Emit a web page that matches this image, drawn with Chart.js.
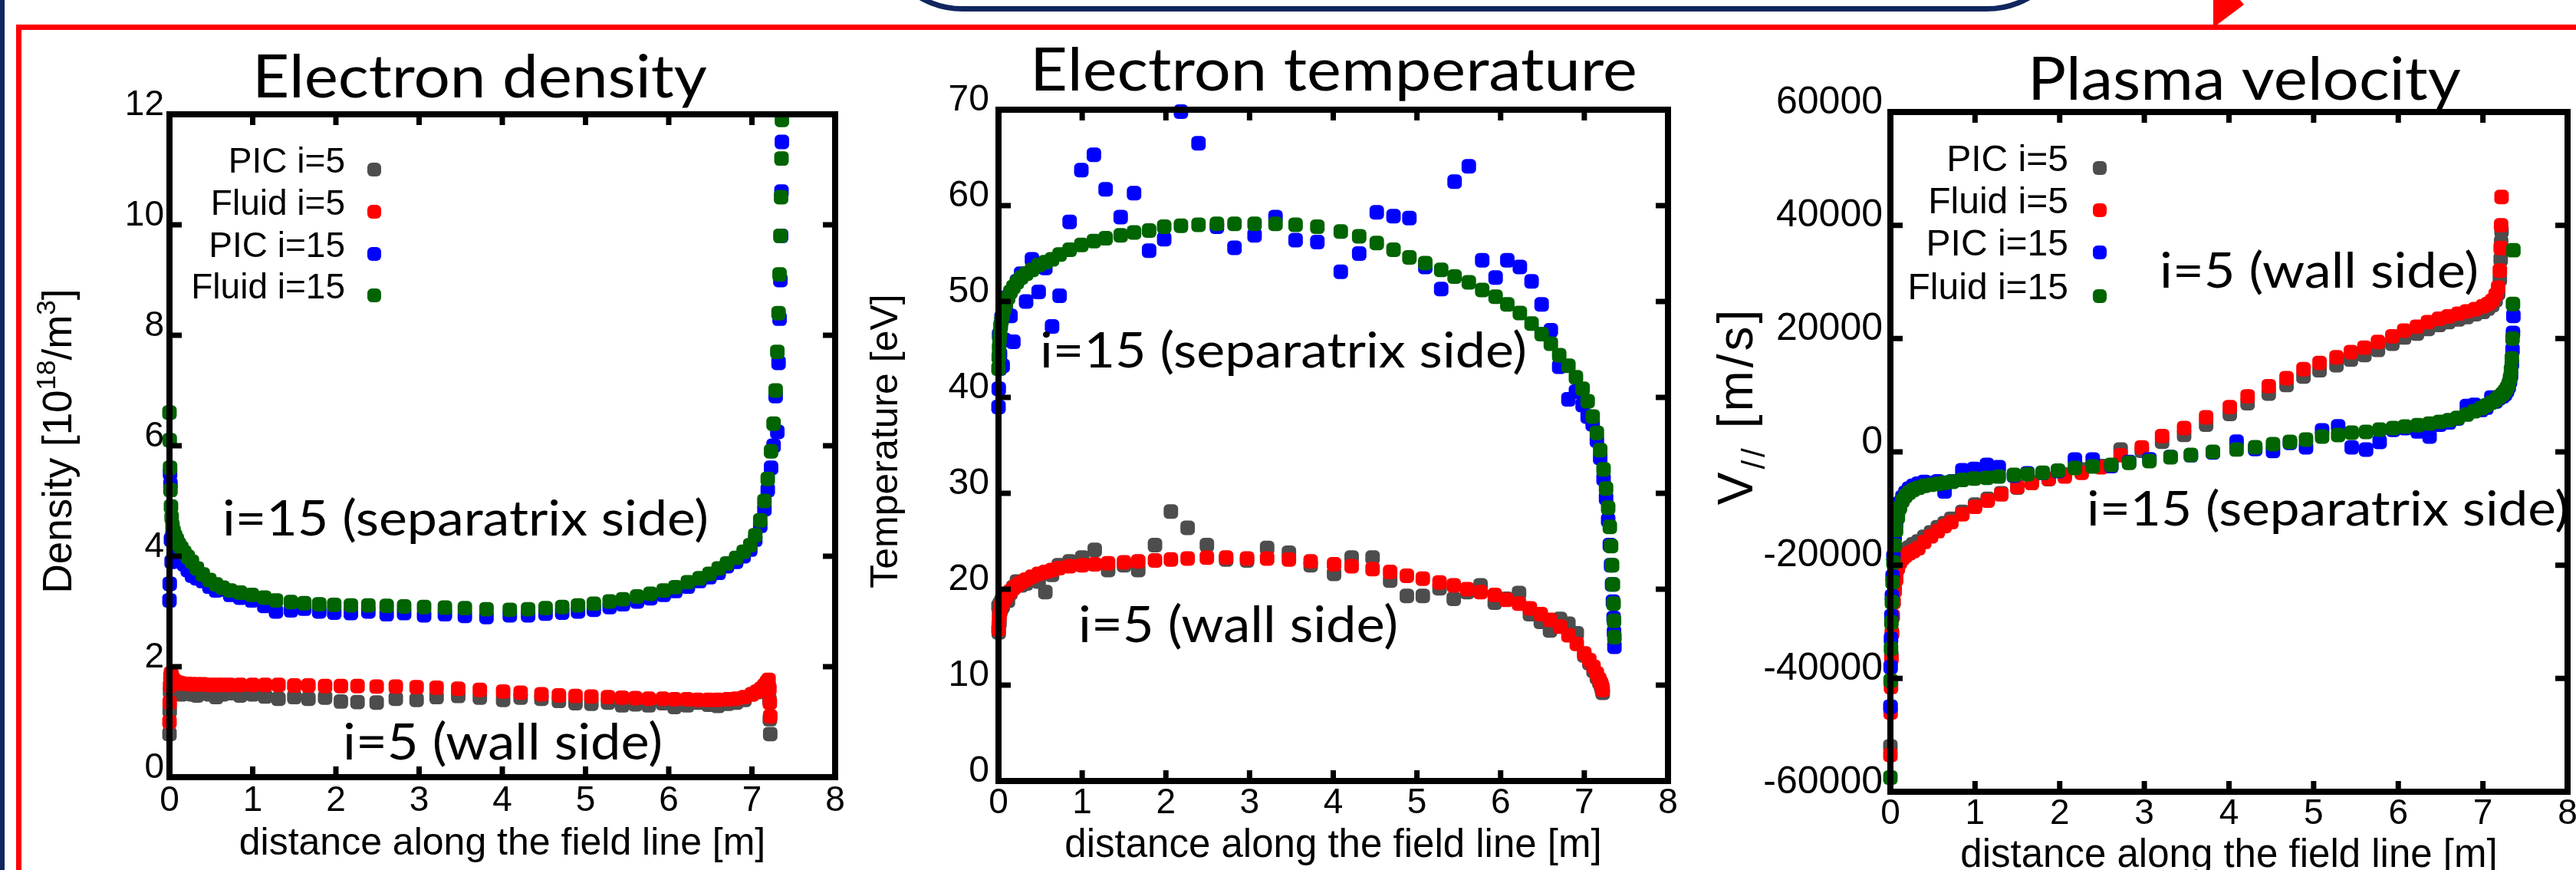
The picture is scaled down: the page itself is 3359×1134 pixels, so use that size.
<!DOCTYPE html>
<html>
<head>
<meta charset="utf-8">
<script src="https://cdn.jsdelivr.net/npm/chart.js@4.4.1/dist/chart.umd.min.js"></script>
<style>
html,body{margin:0;padding:0;background:#fff;width:3359px;height:1134px;overflow:hidden}
#page{position:relative;width:3359px;height:1134px}
canvas{position:absolute;display:block}
#bg{left:0;top:0}
</style>
</head>
<body>
<div id="page">
<canvas id="bg" width="3359" height="1134"></canvas>
<canvas id="c1"></canvas>
<canvas id="c2"></canvas>
<canvas id="c3"></canvas>
</div>
<script>
// ---------------- DATA ----------------
const SERIES_NAMES = ['PIC i=5', 'Fluid i=5', 'PIC i=15', 'Fluid i=15'];
const X_TICKS = [0, 1, 2, 3, 4, 5, 6, 7, 8];
const DENSITY_TICKS = [0, 2, 4, 6, 8, 10, 12];
const TEMP_TICKS = [0, 10, 20, 30, 40, 50, 60, 70];
const VEL_TICKS = [-60000, -40000, -20000, 0, 20000, 40000, 60000];

// distance along the field line [m] for flux tube i=5 and i=15
const S5 = [0, 0.003, 0.007, 0.012, 0.018, 0.026, 0.036, 0.05, 0.067, 0.088,
  0.113, 0.143, 0.178, 0.22, 0.27, 0.33, 0.4, 0.48, 0.56, 0.64,
  0.72, 0.85, 1.0, 1.15, 1.31, 1.5, 1.67, 1.87, 2.06, 2.26,
  2.49, 2.72, 2.97, 3.21, 3.47, 3.73, 4.01, 4.22, 4.47, 4.68,
  4.88, 5.07, 5.27, 5.44, 5.6, 5.76, 5.93, 6.07, 6.22, 6.35,
  6.48, 6.59, 6.71, 6.81, 6.91, 7.0, 7.06, 7.11, 7.15, 7.18,
  7.2, 7.21, 7.215, 7.22];
const S15 = [0, 0.003, 0.007, 0.012, 0.018, 0.026, 0.036, 0.05, 0.067, 0.088,
  0.113, 0.143, 0.178, 0.22, 0.27, 0.33, 0.4, 0.48, 0.56, 0.64,
  0.73, 0.85, 0.99, 1.14, 1.28, 1.46, 1.62, 1.8, 1.98, 2.18,
  2.39, 2.61, 2.82, 3.06, 3.31, 3.55, 3.81, 4.09, 4.31, 4.52,
  4.72, 4.91, 5.1, 5.29, 5.45, 5.62, 5.78, 5.94, 6.08, 6.23,
  6.37, 6.49, 6.6, 6.7, 6.81, 6.9, 6.98, 7.04, 7.1, 7.15,
  7.19, 7.23, 7.26, 7.285, 7.305, 7.32, 7.332, 7.342, 7.35, 7.355, 7.36];

// Electron density [10^18 m^-3]
const DENS_PIC5 = [0.78, 1.2, 1.55, 1.75, 1.8, 1.7, 1.62, 1.58, 1.55, 1.57,
  1.53, 1.5, 1.52, 1.53, 1.5, 1.48, 1.52, 1.5, 1.45, 1.5,
  1.52, 1.48, 1.5, 1.46, 1.42, 1.45, 1.42, 1.44, 1.37, 1.36,
  1.35, 1.42, 1.4, 1.45, 1.47, 1.44, 1.4, 1.44, 1.42, 1.38,
  1.34, 1.33, 1.35, 1.3, 1.32, 1.3, 1.34, 1.27, 1.3, 1.35,
  1.31, 1.29, 1.33, 1.35, 1.4, 1.5, 1.54, 1.58, 1.62, 1.66,
  1.62, 1.4, 1.05, 0.78];
const DENS_FLUID5 = [1.0, 1.35, 1.65, 1.82, 1.88, 1.84, 1.79, 1.76, 1.74, 1.72,
  1.71, 1.7, 1.69, 1.69, 1.68, 1.68, 1.68, 1.67, 1.67, 1.67,
  1.67, 1.67, 1.67, 1.67, 1.67, 1.66, 1.66, 1.65, 1.65, 1.65,
  1.64, 1.64, 1.63, 1.62, 1.6, 1.58, 1.55, 1.53, 1.5, 1.48,
  1.47, 1.46, 1.45, 1.44, 1.43, 1.42, 1.42, 1.41, 1.41, 1.4,
  1.4, 1.4, 1.41, 1.42, 1.45, 1.5, 1.55, 1.6, 1.66, 1.72,
  1.76, 1.6, 1.35, 1.1];
const DENS_PIC15 = [3.2, 3.5, 5.5, 5.3, 4.3, 3.9, 4.4, 4.2, 4.15, 4.05,
  3.95, 3.9, 3.85, 3.75, 3.65, 3.6, 3.55, 3.45, 3.38, 3.4,
  3.3, 3.25, 3.2, 3.1, 3.0, 3.02, 3.05, 3.0, 2.98, 2.97,
  3.0, 2.95, 2.97, 2.93, 2.95, 2.92, 2.9, 2.93, 2.93, 2.96,
  2.98, 3.0, 3.03, 3.08, 3.13, 3.18, 3.24, 3.3, 3.37, 3.45,
  3.55, 3.62, 3.7, 3.82, 3.9, 4.0, 4.12, 4.3, 4.55, 4.85,
  5.2, 5.6, 6.0, 6.9, 6.25, 7.5, 8.3, 9.0, 9.8, 10.6, 11.5];
const DENS_FLUID15 = [6.6, 6.1, 5.6, 5.2, 4.9, 4.7, 4.55, 4.45, 4.37, 4.3,
  4.22, 4.15, 4.07, 3.99, 3.9, 3.78, 3.67, 3.57, 3.49, 3.43,
  3.38, 3.34, 3.3, 3.25, 3.2, 3.17, 3.15, 3.13, 3.12, 3.11,
  3.11, 3.1, 3.09, 3.08, 3.07, 3.06, 3.04, 3.03, 3.04, 3.06,
  3.08, 3.11, 3.14, 3.18, 3.22, 3.27, 3.32, 3.38, 3.44, 3.53,
  3.6, 3.68, 3.78, 3.87, 3.97, 4.08, 4.2, 4.38, 4.65, 5.0,
  5.4, 5.9, 6.4, 7.0, 7.7, 8.4, 9.1, 9.8, 10.5, 11.2, 11.9];

// Electron temperature [eV]
const TEMP_PIC5 = [18.2, 15.5, 17.5, 16.5, 18.5, 17.8, 18.8, 18.2, 19, 19.2,
  18.8, 19.6, 20.2, 20.8, 20.4, 20.6, 21.2, 20.8, 19.7, 21.5,
  22.5, 22.9, 23.3, 24.1, 22, 22.5, 22, 24.6, 28.1, 26.4,
  24.6, 23.1, 23, 24.3, 23.8, 22.5, 21.6, 23.3, 23.3, 20.9,
  19.3, 19.3, 20.1, 19, 19.7, 20.4, 18.6, 19, 19.6, 17.4,
  16.6, 15.7, 16.9, 16.4, 15.4, 13.1, 12.3, 11.5, 10.8, 10.3,
  9.9, 9.6, 9.4, 9.2];
const TEMP_FLUID5 = [15.8, 16.3, 16.8, 17.2, 17.6, 18, 18.3, 18.6, 18.9, 19.2,
  19.5, 19.8, 20.1, 20.4, 20.7, 21, 21.3, 21.6, 21.8, 22,
  22.2, 22.4, 22.5, 22.6, 22.7, 22.8, 22.9, 23, 23.1, 23.2,
  23.3, 23.3, 23.2, 23.2, 23.1, 22.9, 22.6, 22.4, 22.1, 21.8,
  21.4, 21.1, 20.7, 20.4, 20, 19.7, 19.4, 18.9, 18.5, 18,
  17.4, 16.8, 16.1, 15.2, 14.3, 13.3, 12.6, 11.9, 11.2, 10.6,
  10.2, 9.9, 9.7, 9.5];
const TEMP_PIC15 = [39, 40.9, 46.5, 43, 44.5, 47.5, 48.3, 43.3, 46, 49.7,
  50.5, 48.5, 45.8, 52.1, 52.9, 50, 54.4, 51, 53.5, 47.4,
  50.6, 58.3, 63.7, 65.3, 61.7, 58.8, 61.3, 55.3, 56.5, 69.8,
  66.5, 57.8, 55.6, 56.9, 58.8, 56.4, 56.2, 53.1, 55, 59.3,
  58.9, 58.7, 53.6, 51.3, 62.5, 64.1, 54.3, 52.5, 54.3, 53.6,
  52.1, 49.7, 47, 43.2, 39.8, 40.6, 39.2, 38, 37.2, 35.5,
  33.7, 31.5, 29.5, 27.2, 24.6, 22.5, 20.5, 18.7, 17, 15.5, 14];
const TEMP_FLUID15 = [43, 44.2, 45.2, 46, 46.7, 47.4, 48, 48.6, 49.2, 49.8,
  50.4, 51, 51.5, 52, 52.5, 52.9, 53.3, 53.8, 54.1, 54.4,
  54.9, 55.4, 55.9, 56.3, 56.6, 56.9, 57.2, 57.4, 57.8, 57.9,
  58, 58.1, 58.1, 58.1, 58.1, 58, 57.8, 57.3, 56.8, 56.1,
  55.4, 54.6, 54, 53.3, 52.6, 52, 51.2, 50.5, 49.7, 48.8,
  47.7, 46.6, 45.6, 44.4, 43.3, 42.1, 40.9, 39.6, 38, 36.3,
  34.5, 32.5, 30.5, 28.5, 26.5, 24.5, 22.5, 20.5, 18.5, 16.7, 15];

// Plasma parallel velocity [m/s]
const VEL_PIC5 = [-52000, -45000, -40500, -36000, -32000, -29000, -26500, -24300, -22300, -20300,
  -19000, -18000, -17300, -16900, -16300, -15800, -15000, -14200, -13300, -12600,
  -11800, -10600, -9300, -8300, -7300, -6300, -5400, -4800, -4000, -3100,
  -2500, 400, 200, 1800, 3000, 4800, 6700, 8600, 10300, 11800,
  13300, 14400, 15300, 16300, 17100, 18000, 19100, 20200, 20900, 21700,
  22400, 22900, 23400, 23800, 24300, 24700, 25300, 25900, 26800, 28000,
  30500, 34000, 37000, 39000];
const VEL_FLUID5 = [-53500, -46000, -41500, -36500, -32000, -29000, -26500, -24500, -22500, -20500,
  -19500, -18800, -18300, -17900, -17500, -17000, -15900, -14900, -14000, -13100,
  -12400, -11000, -9700, -8600, -7500, -6200, -5500, -4750, -4350, -3700,
  -2700, -600, 800, 2800, 4200, 6100, 7900, 9800, 11600, 13000,
  14600, 15700, 16700, 17600, 18400, 19400, 20400, 21400, 22100, 22900,
  23500, 23900, 24400, 24800, 25200, 25700, 26100, 26700, 27700, 29000,
  32000, 36000, 40000, 45000];
const VEL_PIC15 = [-45000, -38000, -33000, -29000, -25500, -22000, -18500, -15000, -12500, -10500,
  -9000, -8000, -7200, -6500, -6000, -5600, -5300, -5500, -5200, -7000,
  -5200, -3250, -3000, -2300, -2700, -4200, -3800, -3700, -3400, -1350,
  -1350, -2500, -1800, -1300, -900, -600, -100, 1800, 500, 150,
  1600, 800, 3800, 4500, 800, 400, 1760, 3900, 4200, 3600,
  2700, 4800, 5200, 5900, 8100, 8300, 7400, 7800, 9600, 8900,
  9500, 9800, 10200, 10800, 11500, 12500, 13500, 15500, 18000, 21000, 24000];
const VEL_FLUID15 = [-57500, -40400, -34700, -30100, -26500, -23000, -19500, -16500, -13800, -11500,
  -9800, -8600, -7800, -7200, -6700, -6350, -6000, -5800, -5650, -5450,
  -5280, -4950, -4700, -4580, -4350, -4060, -3940, -3670, -3300, -2850,
  -2570, -2300, -1930, -1620, -950, -540, 0, 420, 810, 1350,
  1760, 2170, 2700, 2980, 3390, 3520, 3930, 4200, 4470, 4700,
  5000, 5300, 5600, 6000, 6600, 7180, 7700, 8200, 8700, 9150,
  9700, 10200, 10700, 11300, 12000, 13000, 14500, 16500, 20000, 26100, 35600];

// ---------------- STYLE ----------------
const COLORS = ['#4d4d4d', '#ff0000', '#0000ff', '#006400'];
const ARIAL = '"Liberation Sans", Arial, Helvetica, sans-serif';
const CAL = 'Lato, "Open Sans", sans-serif';
const NAVY = '#10265e';
const MARKER_R = 11;

// ---------------- BACKGROUND DECOR ----------------
(function () {
  const g = document.getElementById('bg').getContext('2d');
  g.fillStyle = '#fff'; g.fillRect(0, 0, 3359, 1134);
  g.fillStyle = NAVY; g.fillRect(0, 0, 6, 1134);
  g.fillStyle = '#ff0000';
  g.fillRect(21, 32, 3359 - 21, 7);
  g.fillRect(21, 32, 7, 1134 - 32);
  g.strokeStyle = NAVY; g.lineWidth = 7;
  g.beginPath();
  g.roundRect(1143.5, -400, 2702.5 - 1143.5, 411.5, 112);
  g.stroke();
  g.fillStyle = '#ff0000';
  g.beginPath();
  g.moveTo(2886, 0); g.lineTo(2921, 0); g.lineTo(2926, 6); g.lineTo(2886, 36);
  g.closePath(); g.fill();
})();

// ---------------- HELPERS ----------------
function pts(xs, ys) { return xs.map((x, i) => ({ x: x, y: ys[i] })); }
function makeDatasets(p5, f5, p15, f15) {
  const raw = [[S5, p5], [S5, f5], [S15, p15], [S15, f15]];
  return raw.map((r, i) => ({
    label: SERIES_NAMES[i],
    data: pts(r[0], r[1]),
    backgroundColor: COLORS[i],
    borderColor: COLORS[i],
    pointStyle: 'rectRounded',
    pointRadius: MARKER_R,
    pointHoverRadius: MARKER_R,
    pointBorderWidth: 0,
    borderWidth: 0,
    clip: false,
    order: 4 - i
  }));
}

function roundedSquare(ctx, cx, cy, side, r) {
  const h = side / 2;
  ctx.beginPath();
  ctx.roundRect(cx - h, cy - h, side, side, r);
  ctx.fill();
}

function fitText(ctx, t, L, T) {
  ctx.save();
  ctx.font = '100px ' + CAL;
  const m = ctx.measureText(t.text);
  const ink = m.actualBoundingBoxLeft + m.actualBoundingBoxRight;
  const size = 100 * (t.r - t.l) / ink;
  ctx.font = size + 'px ' + CAL;
  const m2 = ctx.measureText(t.text);
  const ref = ctx.measureText(t.ref);
  const sy = (t.base - t.top) / ref.actualBoundingBoxAscent;
  ctx.translate(t.l - L + m2.actualBoundingBoxLeft, t.base - T);
  ctx.scale(1, sy);
  ctx.textAlign = 'left'; ctx.textBaseline = 'alphabetic';
  ctx.fillStyle = '#000';
  ctx.fillText(t.text, 0, 0);
  ctx.restore();
}

function richVertical(ctx, yt, L, T) {
  ctx.save();
  ctx.translate(yt.baseX - L, yt.cy - T);
  ctx.rotate(-Math.PI / 2);
  ctx.fillStyle = '#000';
  ctx.textBaseline = 'alphabetic'; ctx.textAlign = 'left';
  const small = yt.size * 0.66;
  const sp = yt.spacing || 0;
  let total = 0;
  const widths = yt.parts.map(p => {
    ctx.font = (p[1] === 'n' ? yt.size : small) + 'px ' + ARIAL;
    const w = ctx.measureText(p[0]).width + sp * p[0].length; total += w; return w;
  });
  total -= sp;
  let x = -total / 2;
  yt.parts.forEach((p, i) => {
    ctx.font = (p[1] === 'n' ? yt.size : small) + 'px ' + ARIAL;
    const dy = p[1] === 'sup' ? -yt.size * 0.4 : (p[1] === 'sub' ? yt.size * 0.25 : 0);
    if (sp) {
      let cx = x;
      for (const ch of p[0]) { ctx.fillText(ch, cx, dy); cx += ctx.measureText(ch).width + sp; }
    } else {
      ctx.fillText(p[0], x, dy);
    }
    x += widths[i];
  });
  ctx.restore();
}

const decor = {
  id: 'decor',
  afterDatasetsDraw(chart, args, o) {
    const ctx = chart.ctx, a = chart.chartArea, xs = chart.scales.x, ys = chart.scales.y;
    ctx.save();
    ctx.strokeStyle = '#000';
    ctx.lineWidth = o.frameW;
    ctx.strokeRect(a.left, a.top, a.right - a.left, a.bottom - a.top);
    ctx.lineWidth = o.tickW;
    ctx.beginPath();
    o.xTicks.forEach(v => {
      if (v === xs.min || v === xs.max) return;
      const px = xs.getPixelForValue(v);
      ctx.moveTo(px, a.bottom); ctx.lineTo(px, a.bottom - o.xTickLen);
      ctx.moveTo(px, a.top); ctx.lineTo(px, a.top + o.xTickLen);
    });
    o.yTicks.forEach(v => {
      if (v === ys.min || v === ys.max) return;
      const py = ys.getPixelForValue(v);
      ctx.moveTo(a.left, py); ctx.lineTo(a.left + o.yTickLen, py);
      ctx.moveTo(a.right, py); ctx.lineTo(a.right - o.yTickLen, py);
    });
    ctx.stroke();
    ctx.restore();
  },
  afterDraw(chart, args, o) {
    const ctx = chart.ctx, L = o.off[0], T = o.off[1];
    fitText(ctx, o.title, L, T);
    o.notes.forEach(n => fitText(ctx, n, L, T));
    richVertical(ctx, o.yTitle, L, T);
    if (o.legend) {
      const lg = o.legend;
      ctx.save();
      ctx.font = lg.size + 'px ' + ARIAL;
      ctx.textAlign = 'right'; ctx.textBaseline = 'alphabetic';
      SERIES_NAMES.forEach((name, i) => {
        ctx.fillStyle = '#000';
        ctx.fillText(name, lg.right - L, lg.base[i] - T);
        ctx.fillStyle = COLORS[i];
        roundedSquare(ctx, lg.mx - L, lg.base[i] - 4 - T, 18, 6);
      });
      ctx.restore();
    }
  }
};

function makeChart(id, cfg) {
  const cv = document.getElementById(id);
  const C = cfg.canvas, A = cfg.area;
  cv.width = C.w; cv.height = C.h;
  cv.style.left = C.left + 'px'; cv.style.top = C.top + 'px';
  cv.style.width = C.w + 'px'; cv.style.height = C.h + 'px';
  const aL = A.l - C.left, aR = A.r - C.left, aT = A.t - C.top, aB = A.b - C.top;
  const XH = 100;
  const xTitleSize = cfg.xTitleSize;
  const xTitlePad = (A.b + XH) - cfg.xTitleCenter - xTitleSize / 2;
  return new Chart(cv, {
    type: 'scatter',
    data: { datasets: cfg.datasets },
    options: {
      responsive: false, maintainAspectRatio: false, animation: false, devicePixelRatio: 1,
      events: [],
      layout: { padding: { left: 0, top: aT, right: C.w - aR, bottom: C.h - aB - XH } },
      plugins: {
        legend: { display: false }, tooltip: { enabled: false },
        decor: {
          off: [C.left, C.top], xTicks: X_TICKS, yTicks: cfg.yTicks,
          frameW: 8, tickW: 7, xTickLen: 14, yTickLen: 16,
          title: cfg.title, notes: cfg.notes, yTitle: cfg.yTitle, legend: cfg.legend
        }
      },
      scales: {
        x: {
          type: 'linear', position: 'bottom', min: 0, max: 8,
          afterBuildTicks: s => { s.ticks = X_TICKS.map(v => ({ value: v })); },
          afterFit: s => { s.height = XH; s.paddingLeft = 0; s.paddingRight = 0; },
          ticks: { font: { family: ARIAL, size: 46 }, color: '#000', padding: cfg.xTickPad, maxRotation: 0, minRotation: 0, autoSkip: false, callback: v => String(v) },
          grid: { display: false, drawTicks: false }, border: { display: false },
          title: { display: true, text: 'distance along the field line [m]', color: '#000',
                   font: { family: ARIAL, size: xTitleSize, lineHeight: 1 }, padding: { top: 0, bottom: xTitlePad } }
        },
        y: {
          type: 'linear', position: 'left', min: cfg.yTicks[0], max: cfg.yTicks[cfg.yTicks.length - 1],
          afterBuildTicks: s => { s.ticks = cfg.yTicks.map(v => ({ value: v })); },
          afterFit: s => { s.width = aL; s.paddingTop = 0; s.paddingBottom = 0; },
          ticks: { font: { family: ARIAL, size: cfg.yTickSize }, color: '#000', padding: cfg.yTickPad, labelOffset: -12, autoSkip: false, callback: v => String(v) },
          grid: { display: false, drawTicks: false }, border: { display: false },
          title: { display: false }
        }
      }
    },
    plugins: [decor]
  });
}

// ---------------- CHARTS ----------------
makeChart('c1', {
  canvas: { left: 30, top: 40, w: 1080, h: 1094 },
  area: { l: 221, r: 1089, t: 149, b: 1013 },
  yTicks: DENSITY_TICKS, yTickSize: 46, yTickPad: 7, xTickPad: 4,
  xTitleSize: 50, xTitleCenter: 1100,
  datasets: makeDatasets(DENS_PIC5, DENS_FLUID5, DENS_PIC15, DENS_FLUID15),
  title: { text: 'Electron density', l: 336, r: 921, top: 72, base: 127, ref: 'E' },
  notes: [
    { text: 'i=15 (separatrix side)', l: 293, r: 921, top: 652, base: 698, ref: '1' },
    { text: 'i=5 (wall side)', l: 450, r: 861, top: 944, base: 990, ref: '5' }
  ],
  yTitle: { parts: [['Density [10', 'n'], ['18', 'sup'], ['/m', 'n'], ['3', 'sup'], [']', 'n']], baseX: 93, cy: 575, size: 53 },
  legend: { right: 450, mx: 488, base: [225, 280, 335, 389], size: 46 }
});

makeChart('c2', {
  canvas: { left: 1115, top: 40, w: 1085, h: 1094 },
  area: { l: 1302, r: 2175, t: 143, b: 1018 },
  yTicks: TEMP_TICKS, yTickSize: 48, yTickPad: 12, xTickPad: 2,
  xTitleSize: 51, xTitleCenter: 1103,
  datasets: makeDatasets(TEMP_PIC5, TEMP_FLUID5, TEMP_PIC15, TEMP_FLUID15),
  title: { text: 'Electron temperature', l: 1350, r: 2131, top: 63, base: 118, ref: 'E' },
  notes: [
    { text: 'i=15 (separatrix side)', l: 1359, r: 1988, top: 433, base: 479, ref: '1' },
    { text: 'i=5 (wall side)', l: 1409, r: 1820, top: 791, base: 837, ref: '5' }
  ],
  yTitle: { parts: [['Temperature [eV]', 'n']], baseX: 1170, cy: 575, size: 50 },
  legend: null
});

makeChart('c3', {
  canvas: { left: 2205, top: 40, w: 1154, h: 1094 },
  area: { l: 2465, r: 3351, t: 146, b: 1032 },
  yTicks: VEL_TICKS, yTickSize: 50, yTickPad: 10, xTickPad: 2,
  xTitleSize: 51, xTitleCenter: 1116,
  datasets: makeDatasets(VEL_PIC5, VEL_FLUID5, VEL_PIC15, VEL_FLUID15),
  title: { text: 'Plasma velocity', l: 2651, r: 3208, top: 75, base: 130, ref: 'P' },
  notes: [
    { text: 'i=5 (wall side)', l: 2819, r: 3229, top: 329, base: 375, ref: '5' },
    { text: 'i=15 (separatrix side)', l: 2724, r: 3347, top: 640, base: 685, ref: '1' }
  ],
  yTitle: { parts: [['V', 'n'], ['//', 'sub'], [' [m/s]', 'n']], baseX: 2285, cy: 531, size: 64, spacing: 4 },
  legend: { right: 2697, mx: 2738, base: [223, 278, 333, 390], size: 48 }
});
</script>
</body>
</html>
